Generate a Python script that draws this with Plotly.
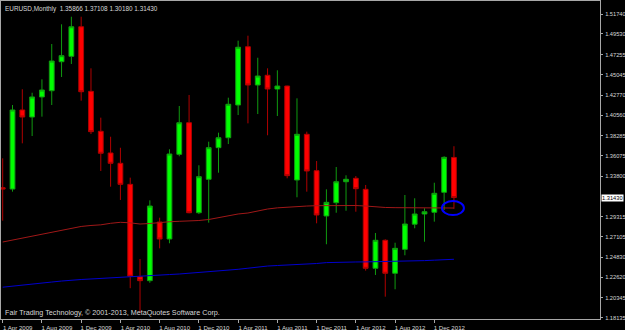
import plotly.graph_objects as go

# ---------------- data (EURUSD monthly) ----------------
bar_index = list(range(47))  # Apr 2009 ... Feb 2013, one bar per month

open_ = [1.3252, 1.3237, 1.4112, 1.4034, 1.4256, 1.4325, 1.4646, 1.4706, 1.5033, 1.4318,
         1.3876, 1.3636, 1.3522, 1.3289, 1.2267, 1.2223, 1.2872, 1.2684, 1.3621, 1.3971,
         1.2975, 1.3345, 1.3695, 1.3805, 1.4167, 1.4812, 1.4388, 1.4496, 1.4344, 1.4377,
         1.3337, 1.3843, 1.3440, 1.2939, 1.3086, 1.3318, 1.3356, 1.3234, 1.2360, 1.2670,
         1.2305, 1.2570, 1.2848, 1.2961, 1.2980, 1.3201, 1.35866]
high_ = [1.3577, 1.4167, 1.4341, 1.4303, 1.4451, 1.4842, 1.5060, 1.5144, 1.5144, 1.4573,
         1.4027, 1.3816, 1.3694, 1.3363, 1.2463, 1.3112, 1.2920, 1.3677, 1.4156, 1.4278,
         1.3500, 1.3761, 1.3861, 1.4248, 1.4879, 1.4934, 1.4690, 1.4573, 1.4551, 1.4380,
         1.4241, 1.3872, 1.3547, 1.3234, 1.3481, 1.3389, 1.3381, 1.3282, 1.2751, 1.2681,
         1.2643, 1.3171, 1.3135, 1.3024, 1.3307, 1.3600, 1.37108]
low_ = [1.2887, 1.3208, 1.3743, 1.3824, 1.4038, 1.4167, 1.4477, 1.4621, 1.4215, 1.3846,
        1.3437, 1.3263, 1.3116, 1.2140, 1.1865, 1.2200, 1.2581, 1.2637, 1.3600, 1.2969,
        1.2960, 1.2865, 1.3418, 1.3735, 1.4056, 1.3964, 1.4067, 1.3832, 1.4045, 1.3356,
        1.3146, 1.3208, 1.2858, 1.2626, 1.2975, 1.2997, 1.2986, 1.2334, 1.2286, 1.2046,
        1.2128, 1.2504, 1.2803, 1.2654, 1.2876, 1.3005, 1.30180]
close_ = [1.3237, 1.4112, 1.4034, 1.4256, 1.4333, 1.4654, 1.4713, 1.5033, 1.4314, 1.3872,
          1.3633, 1.3522, 1.3289, 1.2272, 1.2223, 1.3049, 1.2684, 1.3625, 1.3971, 1.2975,
          1.3374, 1.3695, 1.3805, 1.4175, 1.4806, 1.4388, 1.4488, 1.4344, 1.4377, 1.3385,
          1.3843, 1.3437, 1.2950, 1.3090, 1.3318, 1.3345, 1.3241, 1.2360, 1.2670, 1.2305,
          1.2581, 1.2850, 1.2961, 1.2986, 1.3190, 1.3588, 1.31430]

ma_red = [1.2651, 1.2673, 1.2695, 1.2717, 1.2740, 1.2762, 1.2786, 1.2806, 1.2823, 1.2834,
          1.2841, 1.2858, 1.2869, 1.2863, 1.2850, 1.2856, 1.2867, 1.2875, 1.2880, 1.2883,
          1.2889, 1.2900, 1.2922, 1.2941, 1.2961, 1.2972, 1.2994, 1.3016, 1.3029, 1.3038,
          1.3044, 1.3049, 1.3053, 1.3055, 1.3057, 1.3057, 1.3055, 1.3049, 1.3040, 1.3033,
          1.3031, 1.3031, 1.3031, 1.3031, 1.3030, 1.3027, 1.3027]
ma_blue = [1.2151, 1.2164, 1.2175, 1.2186, 1.2197, 1.2208, 1.2219, 1.2231, 1.2236, 1.2242,
           1.2249, 1.2255, 1.2262, 1.2268, 1.2273, 1.2278, 1.2285, 1.2291, 1.2297, 1.2305,
           1.2311, 1.2319, 1.2328, 1.2337, 1.2349, 1.2361, 1.2374, 1.2385, 1.2391, 1.2395,
           1.2401, 1.2405, 1.2413, 1.2423, 1.2428, 1.2429, 1.2430, 1.2431, 1.2432, 1.2433,
           1.2435, 1.2439, 1.2441, 1.2445, 1.2450, 1.2454, 1.2460]

x_tick_pos = [0, 4, 8, 12, 16, 20, 24, 28, 32, 36, 40, 44]
x_tick_labels = ["1 Apr 2009", "1 Aug 2009", "1 Dec 2009", "1 Apr 2010", "1 Aug 2010",
                 "1 Dec 2010", "1 Apr 2011", "1 Aug 2011", "1 Dec 2011", "1 Apr 2012",
                 "1 Aug 2012", "1 Dec 2012"]
y_tick_vals = [1.51740, 1.49530, 1.47255, 1.45045, 1.42770, 1.40560, 1.38285, 1.36075,
               1.33800, 1.29315, 1.27105, 1.24830, 1.22620, 1.20345, 1.18135]

symbol = "EURUSD,Monthly"
copyright_text = "Fair Trading Technology, \u00a9 2001-2013, MetaQuotes Software Corp."

# ---------------- styles ----------------
BG = "#000000"
AXIS = "#a8a8a8"
TXT = "#d8d8d8"
FONT = "Liberation Sans, Arial, sans-serif"

fig = go.Figure()
fig.add_trace(go.Scatter(x=bar_index, y=ma_red, mode="lines",
                         line=dict(color="#a01818", width=1), hoverinfo="skip", showlegend=False))
fig.add_trace(go.Scatter(x=bar_index, y=ma_blue, mode="lines",
                         line=dict(color="#0000cd", width=1), hoverinfo="skip", showlegend=False))
fig.add_trace(go.Candlestick(
    x=bar_index, open=open_, high=high_, low=low_, close=close_,
    increasing=dict(line=dict(color="#109a10", width=1), fillcolor="#00ff00"),
    decreasing=dict(line=dict(color="#b00000", width=1), fillcolor="#ff0000"),
    whiskerwidth=0, showlegend=False, hoverinfo="skip"))

# header & copyright
header = symbol + "  " + " ".join(f"{v:.5f}" for v in (open_[-1], high_[-1], low_[-1], close_[-1]))
fig.add_annotation(text=header, xref="paper", yref="paper", x=0.003, y=0.995,
                   xanchor="left", yanchor="top", showarrow=False,
                   font=dict(family=FONT, size=6.4, color=TXT))
fig.add_annotation(text=copyright_text, xref="paper", yref="paper", x=0.003, y=0.0,
                   xanchor="left", yanchor="bottom", showarrow=False,
                   font=dict(family=FONT, size=7.2, color=TXT))

# current price label
fig.add_annotation(text=f"{close_[-1]:.5f}", xref="paper", yref="y", x=1.0, y=close_[-1],
                   xanchor="left", yanchor="middle", showarrow=False, bgcolor="#ffffff",
                   borderpad=0, xshift=1, font=dict(family=FONT, size=5.7, color="#000000"))

# blue ellipse around last bar at the red MA
fig.add_shape(type="circle", xref="x", yref="y", xsizemode="pixel", ysizemode="pixel",
              xanchor=bar_index[-1], yanchor=ma_red[-1], x0=-12, x1=10, y0=-7, y1=7,
              line=dict(color="#0000ff", width=2))

fig.update_layout(
    width=625, height=330, template="none",
    margin=dict(l=1, r=25, t=1, b=11, autoexpand=False),
    paper_bgcolor=BG, plot_bgcolor=BG,
    showlegend=False, hovermode=False,
    xaxis=dict(range=[-0.173, 60.89], showgrid=False, zeroline=False, automargin=False,
               showline=True, mirror=True, linecolor=AXIS, linewidth=1,
               ticks="outside", ticklen=3, tickcolor=AXIS, tickwidth=1,
               tickvals=x_tick_pos, ticktext=x_tick_labels, ticklabelshift=15,
               ticklabelstandoff=0,
               tickfont=dict(family=FONT, size=6.1, color=TXT),
               rangeslider=dict(visible=False), fixedrange=True),
    yaxis=dict(range=[1.17990, 1.53179], side="right", showgrid=False, zeroline=False,
               automargin=False, showline=True, mirror=True, linecolor=AXIS, linewidth=1,
               ticks="outside", ticklen=2, tickcolor=AXIS, tickwidth=1,
               tickvals=y_tick_vals, ticktext=[f"{v:.5f}" for v in y_tick_vals],
               ticklabelstandoff=1,
               tickfont=dict(family=FONT, size=5.7, color=TXT), fixedrange=True),
)

fig.write_html("out.html")
